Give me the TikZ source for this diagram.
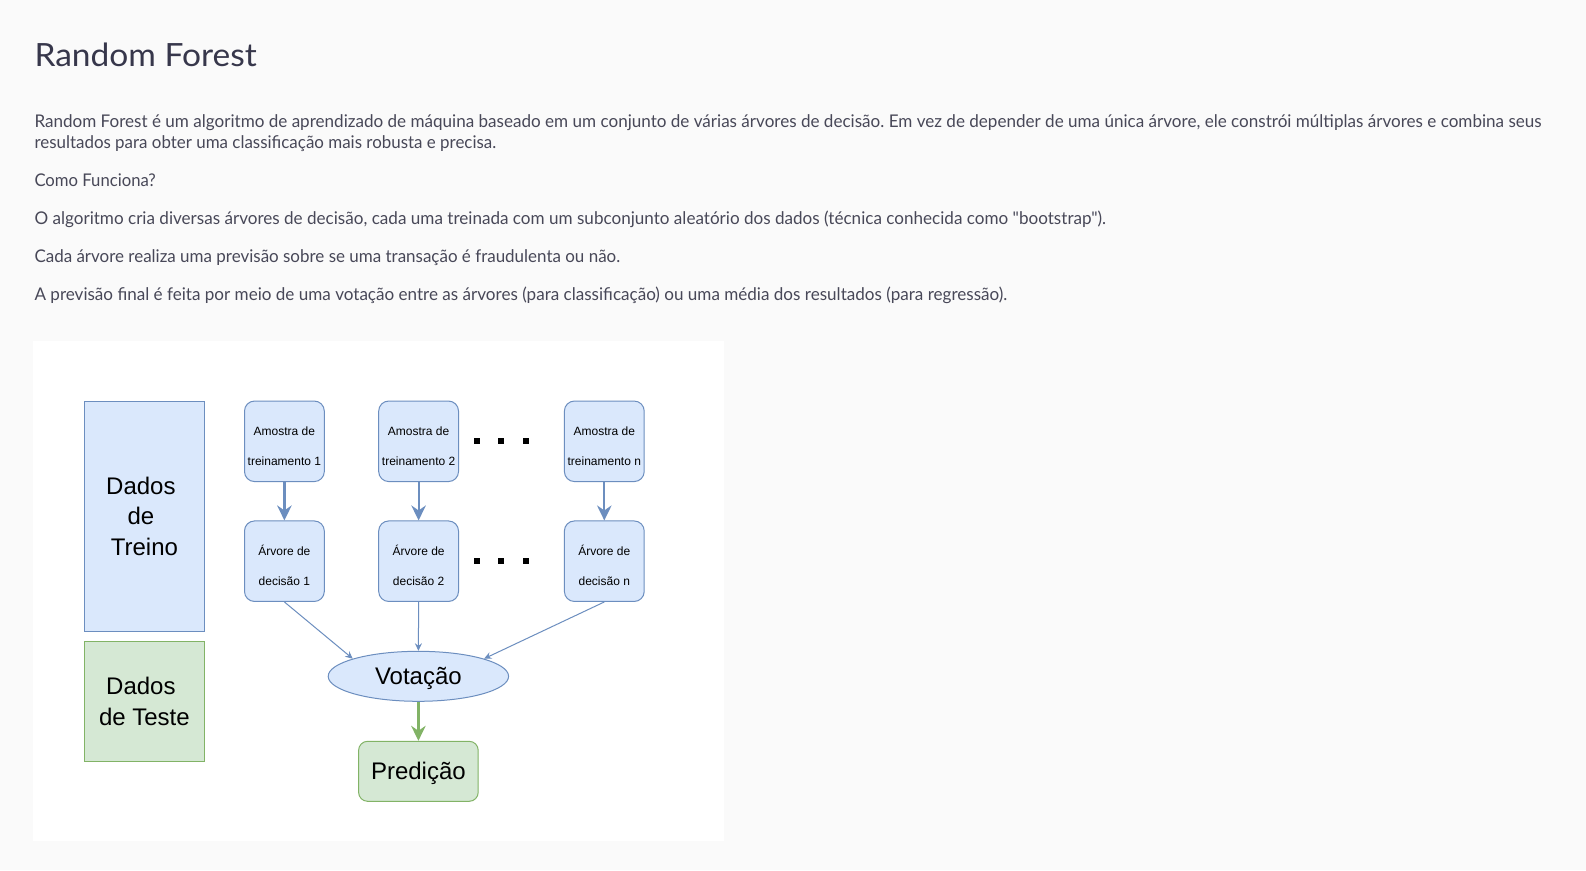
\documentclass[tikz,border=0pt]{standalone}
\usepackage{fontspec}
\usepackage{graphicx}
\usetikzlibrary{arrows.meta,shapes.geometric}
\newfontfamily\uifont{Lato}
\newfontfamily\arfont{Liberation Sans}
\definecolor{bgcol}{RGB}{250,250,250}
\definecolor{titlecol}{RGB}{55,55,75}
\definecolor{bodycol}{RGB}{72,72,88}
\definecolor{bluefill}{HTML}{DAE8FC}
\definecolor{bluedraw}{HTML}{6C8EBF}
\definecolor{greenfill}{HTML}{D5E8D4}
\definecolor{greendraw}{HTML}{82B366}
\frenchspacing
\begin{document}
\begin{tikzpicture}[x=1pt,y=-1pt,
  titletext/.style={anchor=base west, inner sep=0pt, text=titlecol, font=\uifont\fontsize{32}{38}\selectfont},
  bodytext/.style={anchor=base west, inner sep=0pt, text=bodycol, font=\uifont\fontsize{17.5}{21}\selectfont},
  bluebox/.style={draw=bluedraw, fill=bluefill, line width=1pt, inner sep=0pt},
  greenbox/.style={draw=greendraw, fill=greenfill, line width=1pt, inner sep=0pt},
  bigtxt/.style={font=\arfont\fontsize{24}{30.5}\selectfont, align=center, text=black},
  onelinebig/.style={font=\arfont\fontsize{24}{30}\selectfont, text=black, text height=17.2pt, text depth=0pt},
  samplebox/.style={bluebox, rounded corners=10pt, minimum width=79.8pt, minimum height=80.5pt},
  smalltxt/.style={font=\arfont\fontsize{12}{30}\selectfont, align=center, inner sep=0pt, text=black},
  bigarrow/.style={draw=bluedraw, line width=2.2pt, -{Stealth[length=15pt,width=14.5pt,inset=5pt]}},
  thinarrow/.style={draw=bluedraw, line width=1pt, -{Stealth[length=7.5pt,width=7pt,inset=2.5pt]}},
  greenarrow/.style={draw=greendraw, line width=2.2pt, -{Stealth[length=15pt,width=14.5pt,inset=5pt]}},
  dotsq/.style={fill=black}
]
\useasboundingbox (0,0) rectangle (1586,870);
\fill[bgcol] (0,0) rectangle (1586,870);
\fill[white] (33,341) rectangle (724,841);

% header text
\node[titletext] (title) at (34.3,66) {\resizebox{222.4pt}{\height}{Random Forest}};
\node[bodytext] (p1) at (34.3,127.7) {\resizebox{1507pt}{\height}{Random Forest é um algoritmo de aprendizado de máquina baseado em um conjunto de várias árvores de decisão. Em vez de depender de uma única árvore, ele constrói múltiplas árvores e combina seus}};
\node[bodytext] (p2) at (34.3,148.3) {\resizebox{461.7pt}{\height}{resultados para obter uma classificação mais robusta e precisa.}};
\node[bodytext] (p3) at (34.3,186.5) {\resizebox{121.4pt}{\height}{Como Funciona?}};
\node[bodytext] (p4) at (34.3,224.5) {\resizebox{1071.4pt}{\height}{O algoritmo cria diversas árvores de decisão, cada uma treinada com um subconjunto aleatório dos dados (técnica conhecida como "bootstrap").}};
\node[bodytext] (p5) at (34.3,262.5) {\resizebox{585.7pt}{\height}{Cada árvore realiza uma previsão sobre se uma transação é fraudulenta ou não.}};
\node[bodytext] (p6) at (34.3,300.3) {\resizebox{972.7pt}{\height}{A previsão final é feita por meio de uma votação entre as árvores (para classificação) ou uma média dos resultados (para regressão).}};

% left data boxes
\node[bluebox, bigtxt, minimum width=120.2pt, minimum height=230.2pt] (treino) at (144.4,516.4) {Dados\kern7pt\\de\kern7pt\\Treino};
\node[greenbox, bigtxt, minimum width=120.2pt, minimum height=120.2pt] (teste) at (144.4,701.5) {Dados\kern7pt\\de Teste};

% samples
\node[samplebox] (s1) at (284.4,441.3) {};
\node[samplebox] (s2) at (418.6,441.3) {};
\node[samplebox] (sn) at (604.3,441.3) {};
\node[smalltxt] (s1t) at ([yshift=-5pt]s1.center) {Amostra de\\treinamento 1};
\node[smalltxt] (s2t) at ([yshift=-5pt]s2.center) {Amostra de\\treinamento 2};
\node[smalltxt] (snt) at ([yshift=-5pt]sn.center) {Amostra de\\treinamento n};

% trees
\node[samplebox] (t1) at (284.4,561.2) {};
\node[samplebox] (t2) at (418.6,561.2) {};
\node[samplebox] (tn) at (604.3,561.2) {};
\node[smalltxt] (t1t) at ([yshift=-4.5pt]t1.center) {Árvore de\\decisão 1};
\node[smalltxt] (t2t) at ([yshift=-4.5pt]t2.center) {Árvore de\\decisão 2};
\node[smalltxt] (tnt) at ([yshift=-4.5pt]tn.center) {Árvore de\\decisão n};

% dots
\foreach \xx in {474.3,498.3,522.7} {
  \fill[dotsq] (\xx,438.2) rectangle +(6,6);
  \fill[dotsq] (\xx,557.7) rectangle +(6,6);
}

% voting and prediction
\node[bluebox, ellipse, onelinebig, minimum width=180.4pt, minimum height=50pt] (vot) at (418.4,676.3) {Votação};
\node[greenbox, onelinebig, rounded corners=9pt, minimum width=119.6pt, minimum height=60pt] (pred) at (418.4,771.3) {Predição};

% connectors
\draw[bigarrow] (s1.south) -- (t1.north);
\draw[bigarrow] (s2.south) -- (t2.north);
\draw[bigarrow] (sn.south) -- (tn.north);
\draw[thinarrow] (t1.south) -- (vot.165);
\draw[thinarrow] (t2.south) -- (vot.north);
\draw[thinarrow] (tn.south) -- (vot.15);
\draw[greenarrow] (vot.south) -- (pred.north);
\end{tikzpicture}
\end{document}
